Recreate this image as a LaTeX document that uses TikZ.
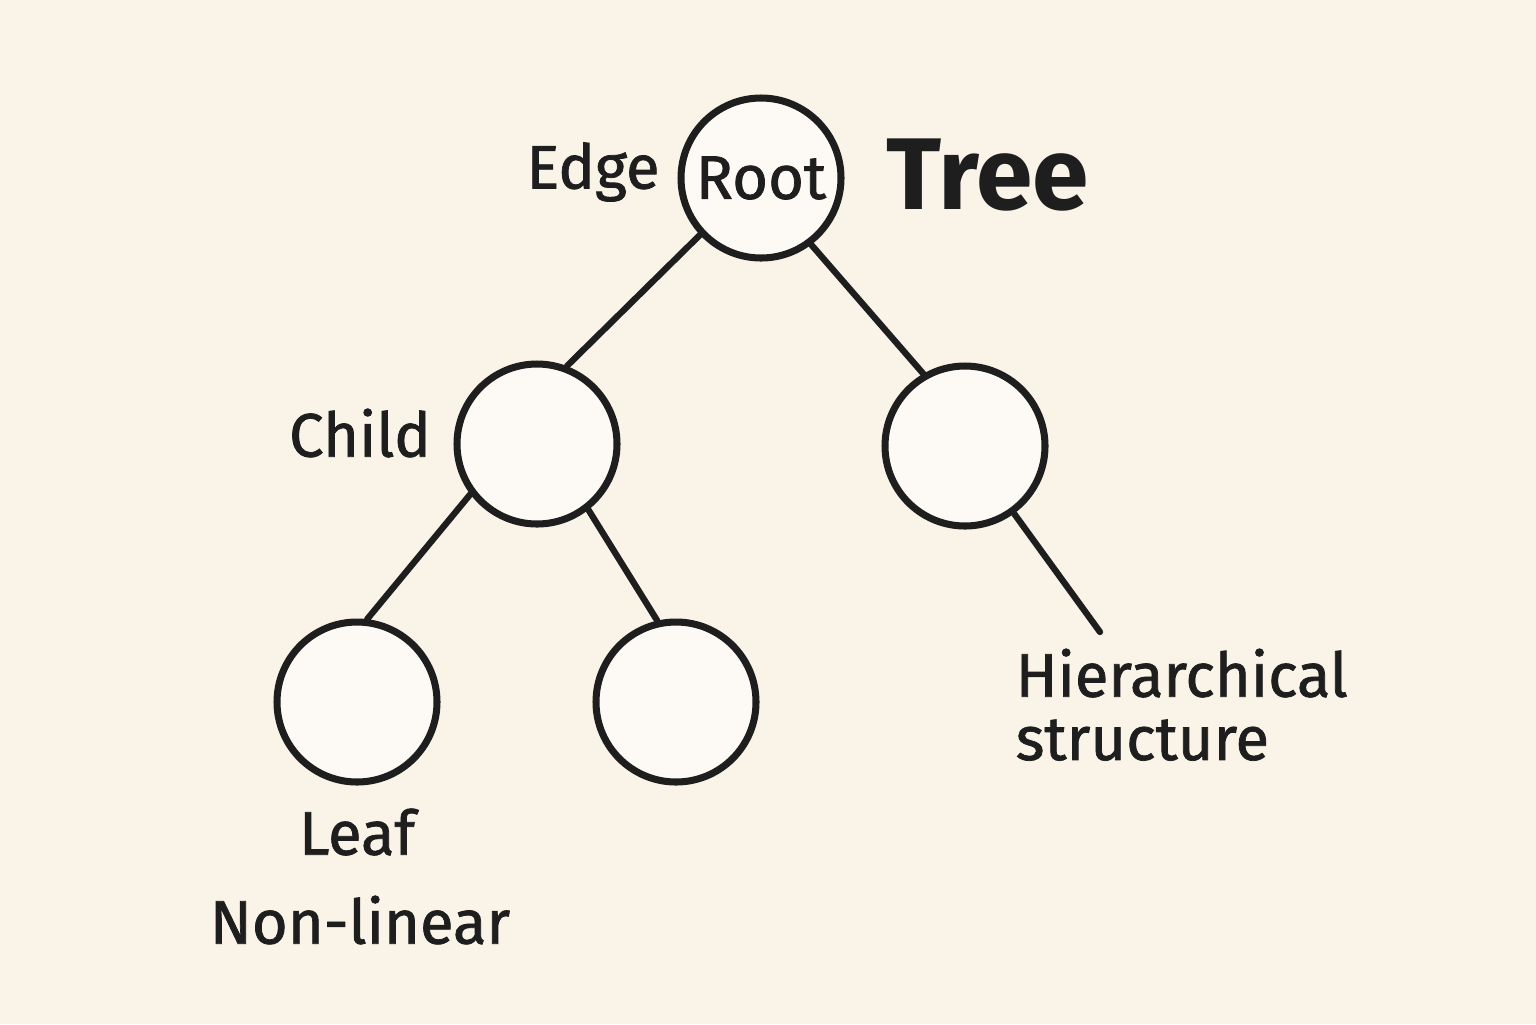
\documentclass[tikz,border=0pt]{standalone}
\usepackage{fontspec}
\setmainfont{Fira Sans}
\newfontface\lblface{Fira Sans}[FakeBold=1.2]
\usepackage{tikz}
\usetikzlibrary{positioning, calc}
\usepackage{xcolor}
\definecolor{treebg}{RGB}{250, 243, 231}
\definecolor{treefill}{RGB}{253, 249, 244}
\definecolor{treeink}{RGB}{30, 30, 30}
\tikzset{
  tnode/.style={
    circle, draw=treeink, fill=treefill,
    line width=2pt, minimum size=1.6cm, inner sep=0pt,
    font=\lblface\fontsize{17.5}{18}\selectfont, text=treeink
  },
  lbl/.style={
    font=\lblface\fontsize{17.5}{18}\selectfont, text=treeink, inner sep=0pt
  },
  tedge/.style={line width=1.8pt, color=treeink, line cap=round},
}

\begin{document}
\begin{tikzpicture}[node distance=0.32cm]
        \fill[treebg] (0,0) rectangle (15.36,-10.24);
        \useasboundingbox (0,0) rectangle (15.36,-10.24);
        % tree nodes
        \node[tnode] (root)   at (7.61,-1.78) {Root};
        \node[tnode] (childl) at (5.37,-4.44) {};
        \node[tnode] (childr) at (9.65,-4.46) {};
        \node[tnode] (leafl)  at (3.57,-7.02) {};
        \node[tnode] (leafr)  at (6.76,-7.02) {};
        \coordinate (tail) at (11.00,-6.32);
        % edges
        \draw[tedge] (root.223)--(childl.69);
        \draw[tedge] (root.307)--(childr.120);
        \draw[tedge] (childl.217)--(leafl.83);
        \draw[tedge] (childl.308)--(leafr.103);
        \draw[tedge] (childr.306)--(tail);
        % labels
        \node[lbl] (edge)  at (5.93,-1.72) {Edge};
        \node[lbl, font=\fontsize{29}{30}\selectfont\bfseries] (title) at (9.88,-1.75) {Tree};
        \node[lbl] (child) at (3.60,-4.33) {Child};
        \node[lbl] (leaf)  at (3.57,-8.32) {Leaf};
        \node[lbl] (nonlin) at (3.60,-9.20) {Non-linear};
        \node[lbl, align=left, anchor=north west] (hier) at (10.15,-6.48) {Hierarchical\\structure};
      \end{tikzpicture}
\end{document}
